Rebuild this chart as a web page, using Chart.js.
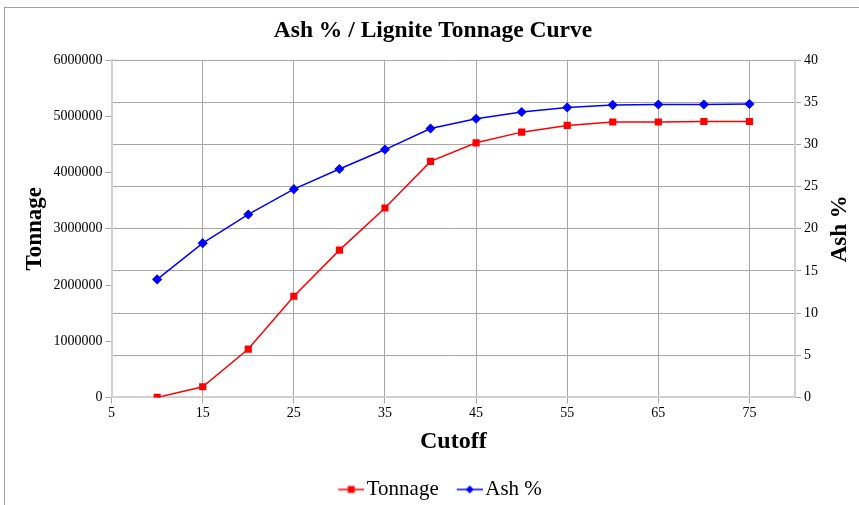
<!DOCTYPE html>
<html>
<head>
<meta charset="utf-8">
<script src="https://cdn.jsdelivr.net/npm/chart.js@4"></script>
<style>
  html, body { margin: 0; padding: 0; background: #fff; }
  #frame { position: absolute; left: 4px; top: 7px; width: 900px; height: 540px; border: 1px solid #a0a0a0; }
  #chart { position: absolute; left: 0; top: 0; }
</style>
</head>
<body>
<div id="frame"></div>
<canvas id="chart" width="859" height="505"></canvas>
<script>
// Cutoff values (x)
const cutoffs = [10, 15, 20, 25, 30, 35, 40, 45, 50, 55, 60, 65, 70, 75];
// Tonnage (left axis)
const tonnage = [0, 190000, 860000, 1800000, 2620000, 3370000, 4200000, 4530000, 4720000, 4840000, 4900000, 4900000, 4910000, 4910000];
// Ash % (right axis)
const ashPct = [14.0, 18.3, 21.7, 24.7, 27.1, 29.4, 31.9, 33.05, 33.85, 34.4, 34.7, 34.75, 34.75, 34.8];
// x tick labels
const xTicks = [5, 15, 25, 35, 45, 55, 65, 75];

const SERIF = '"Liberation Serif", "Times New Roman", serif';
const GRID = '#a6a6a6';
const AXIS = '#d0d0d0';

// line+marker swatch for the legend (content sits right of centre so the text hugs it)
function legendSwatch(color, shape) {
    const c = document.createElement('canvas');
    c.width = 48; c.height = 12;
    const g = c.getContext('2d');
    const x0 = 22, x1 = 48, mx = 35;
    g.strokeStyle = color; g.fillStyle = color; g.lineWidth = 1.5;
    g.beginPath(); g.moveTo(x0, 6); g.lineTo(x1, 6); g.stroke();
    g.beginPath();
    if (shape === 'rect') {
        g.rect(mx - 3.5, 2.5, 7, 7);
    } else {
        g.moveTo(mx, 2); g.lineTo(mx + 4, 6); g.lineTo(mx, 10); g.lineTo(mx - 4, 6); g.closePath();
    }
    g.fill();
    return c;
}

// right axis title reads bottom-to-top like the left one
const rightTitle = {
    id: 'rightTitle',
    afterDraw(chart) {
        const area = chart.chartArea;
        const c = chart.ctx;
        c.save();
        c.translate(840, (area.top + area.bottom) / 2);
        c.rotate(-Math.PI / 2);
        c.font = 'bold 23px ' + SERIF;
        c.fillStyle = '#000';
        c.textAlign = 'center';
        c.textBaseline = 'middle';
        c.fillText('Ash %', 0, 0);
        c.restore();
    }
};

const ctx = document.getElementById('chart').getContext('2d');
new Chart(ctx, {
    type: 'line',
    data: {
        datasets: [{
            label: 'Tonnage',
            data: cutoffs.map((x, i) => ({ x: x, y: tonnage[i] })),
            yAxisID: 'y',
            borderColor: '#ff0000',
            backgroundColor: '#ff0000',
            borderWidth: 1.5,
            pointStyle: 'rect',
            pointRadius: 4,
            pointHoverRadius: 4,
            tension: 0
        }, {
            label: 'Ash %',
            data: cutoffs.map((x, i) => ({ x: x, y: ashPct[i] })),
            yAxisID: 'y2',
            borderColor: '#0000ff',
            backgroundColor: '#0000ff',
            borderWidth: 1.5,
            pointStyle: 'rectRot',
            pointRadius: 4,
            pointHoverRadius: 4,
            tension: 0
        }]
    },
    plugins: [rightTitle],
    options: {
        responsive: false,
        animation: false,
        layout: { padding: { left: 17, right: 10, top: 10, bottom: -5 } },
        plugins: {
            title: {
                display: true,
                text: 'Ash % / Lignite Tonnage Curve',
                color: '#000',
                font: { family: SERIF, size: 23.5, weight: 'bold' },
                padding: { top: 7, bottom: 15 }
            },
            legend: {
                position: 'bottom',
                labels: {
                    color: '#000',
                    font: { family: SERIF, size: 21 },
                    usePointStyle: true,
                    pointStyleWidth: 32,
                    padding: 4,
                    generateLabels: (chart) => chart.data.datasets.map((ds, i) => ({
                        text: ds.label,
                        fontColor: '#000',
                        datasetIndex: i,
                        hidden: false,
                        lineWidth: 0,
                        pointStyle: legendSwatch(ds.borderColor, ds.pointStyle === 'rect' ? 'rect' : 'diamond')
                    }))
                }
            },
            tooltip: { enabled: false }
        },
        scales: {
            x: {
                type: 'linear',
                min: 5,
                max: 80,
                afterBuildTicks: (scale) => { scale.ticks = xTicks.map(v => ({ value: v })); },
                grid: { color: GRID, tickLength: 6, tickColor: GRID },
                border: { color: AXIS, width: 2 },
                ticks: { color: '#000', font: { family: SERIF, size: 14 }, maxRotation: 0, padding: 2, callback: v => String(v) },
                title: {
                    display: true,
                    text: 'Cutoff',
                    color: '#000',
                    font: { family: SERIF, size: 24, weight: 'bold' },
                    padding: { top: 3, bottom: 19 }
                }
            },
            y: {
                position: 'left',
                min: 0,
                max: 6000000,
                ticks: { stepSize: 1000000, color: '#000', font: { family: SERIF, size: 14 }, padding: 3, callback: v => String(v) },
                grid: { drawOnChartArea: false, tickLength: 6, tickColor: GRID },
                border: { color: AXIS, width: 2 },
                title: {
                    display: true,
                    text: 'Tonnage',
                    color: '#000',
                    font: { family: SERIF, size: 23, weight: 'bold' },
                    padding: { top: 4, bottom: 2 }
                }
            },
            y2: {
                position: 'right',
                min: 0,
                max: 40,
                afterFit: (scale) => { scale.width += 28; },
                ticks: { stepSize: 5, color: '#000', font: { family: SERIF, size: 14 }, padding: 3, callback: v => String(v) },
                grid: { color: GRID, tickLength: 6, tickColor: GRID },
                border: { color: AXIS, width: 2 }
            }
        }
    }
});
</script>
</body>
</html>
